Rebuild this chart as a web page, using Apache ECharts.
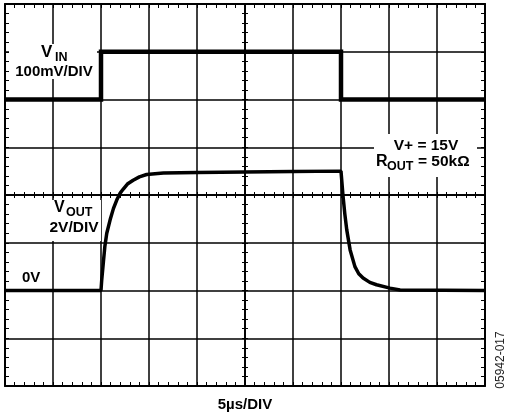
<!DOCTYPE html>
<html>
<head>
<meta charset="utf-8">
<script src="https://cdn.jsdelivr.net/npm/echarts@6/dist/echarts.min.js"></script>
<style>
html,body{margin:0;padding:0;background:#fff;}
#main{width:506px;height:417px;}
</style>
</head>
<body>
<div id="main"></div>
<script>
// screen divisions: x 0..10 (5us/div), y 0..8 (bottom to top)
var vin = [[0,6],[2,6],[2,7],[7,7],[7,6],[10,6]];
var vout = [[0,2],[2.0,2],[2.015,2.22],[2.05,2.6],[2.08,2.92],[2.12,3.2],[2.19,3.48],[2.26,3.72],
	[2.33,3.9],[2.4,4.04],[2.46,4.12],[2.55,4.23],[2.67,4.31],[2.8,4.38],[2.95,4.43],[3.3,4.46],
	[4,4.47],[5,4.48],[6,4.49],[7.0,4.5],[7.04,4.0],[7.08,3.6],[7.12,3.27],[7.19,2.85],
	[7.29,2.5],[7.37,2.35],[7.46,2.26],[7.6,2.17],[7.74,2.12],[8.02,2.05],[8.23,2.01],[10,2]];
var xDivs = 10;
var yDivs = 8;

var chart = echarts.init(document.getElementById('main'));
var font = '"Liberation Sans", Arial, sans-serif';

function scaleAxis(pos, grid, max, extra){
	var a = {
		type: 'value',
		gridIndex: grid,
		min: 0,
		max: max,
		interval: 1,
		position: pos,
		axisLine: {show: true, onZero: false, lineStyle: {color: '#000', width: 2}},
		axisTick: {show: true, inside: true, length: 4, lineStyle: {color: '#000', width: 1}},
		minorTick: {show: true, splitNumber: 5, length: 4, lineStyle: {color: '#000', width: 1}},
		axisLabel: {show: false},
		splitLine: {show: false}
	};
	for (var k in extra) a[k] = extra[k];
	return a;
}

// tick rows along the centre lines: half-screen grids, ticks pointing inward
var centre = {
	axisLine: {show: true, onZero: false, lineStyle: {color: '#000', width: 1.5}},
	axisTick: {show: true, inside: true, length: 3, lineStyle: {color: '#000', width: 1}},
	minorTick: {show: true, splitNumber: 5, length: 3, lineStyle: {color: '#000', width: 1}}
};
function hidden(grid){
	return {type: 'value', gridIndex: grid, min: 0, max: 1, show: false};
}

var gridLine = {show: true, lineStyle: {color: '#000', width: 1.5}};

var option = {
	animation: false,
	backgroundColor: '#fff',
	grid: [
		{left: 5, top: 4, width: 480, height: 382},
		{left: 5, top: 4, width: 480, height: 191},
		{left: 5, top: 195, width: 480, height: 191},
		{left: 5, top: 4, width: 240, height: 382},
		{left: 245, top: 4, width: 240, height: 382}
	],
	xAxis: [
		scaleAxis('bottom', 0, xDivs, {splitLine: gridLine}),
		scaleAxis('top', 0, xDivs, {}),
		scaleAxis('bottom', 1, xDivs, centre),
		scaleAxis('top', 2, xDivs, centre),
		hidden(3),
		hidden(4)
	],
	yAxis: [
		scaleAxis('left', 0, yDivs, {splitLine: gridLine}),
		scaleAxis('right', 0, yDivs, {}),
		hidden(1),
		hidden(2),
		scaleAxis('right', 3, yDivs, centre),
		scaleAxis('left', 4, yDivs, centre)
	],
	series: [
		{
			name: 'VIN',
			type: 'line',
			data: vin,
			showSymbol: false,
			symbol: 'none',
			lineStyle: {color: '#000', width: 4.5, join: 'miter'},
			z: 5
		},
		{
			name: 'VOUT',
			type: 'line',
			data: vout,
			showSymbol: false,
			symbol: 'none',
			smooth: false,
			lineStyle: {color: '#000', width: 3.5},
			z: 5
		}
	],
	graphic: [
		// label backgrounds
		{type: 'rect', z: 10, shape: {x: 9, y: 44, width: 88, height: 35}, style: {fill: '#fff'}},
		{type: 'rect', z: 10, shape: {x: 374, y: 134, width: 103, height: 43}, style: {fill: '#fff'}},
		{type: 'rect', z: 10, shape: {x: 45, y: 200, width: 56, height: 41}, style: {fill: '#fff'}},
		// VIN
		{type: 'text', z: 11, style: {x: 41, y: 52, text: 'V', font: 'bold 17px ' + font, fill: '#000', verticalAlign: 'middle'}},
		{type: 'text', z: 11, style: {x: 55, y: 58, text: 'IN', font: 'bold 12.5px ' + font, fill: '#000', verticalAlign: 'middle'}},
		{type: 'text', z: 11, style: {x: 54, y: 71.5, text: '100mV/DIV', font: 'bold 15px ' + font, fill: '#000', align: 'center', verticalAlign: 'middle'}},
		// V+ / ROUT
		{type: 'text', z: 11, style: {x: 426, y: 146, text: 'V+ = 15V', font: 'bold 15.5px ' + font, fill: '#000', align: 'center', verticalAlign: 'middle'}},
		{type: 'text', z: 11, style: {x: 376, y: 162, text: 'R', font: 'bold 16px ' + font, fill: '#000', verticalAlign: 'middle'}},
		{type: 'text', z: 11, style: {x: 387, y: 167, text: 'OUT', font: 'bold 12.5px ' + font, fill: '#000', verticalAlign: 'middle'}},
		{type: 'text', z: 11, style: {x: 418, y: 162, text: '= 50k\u03a9', font: 'bold 15.5px ' + font, fill: '#000', verticalAlign: 'middle'}},
		// VOUT
		{type: 'text', z: 11, style: {x: 54, y: 208, text: 'V', font: 'bold 16px ' + font, fill: '#000', verticalAlign: 'middle'}},
		{type: 'text', z: 11, style: {x: 66, y: 213, text: 'OUT', font: 'bold 12.5px ' + font, fill: '#000', verticalAlign: 'middle'}},
		{type: 'text', z: 11, style: {x: 74, y: 228, text: '2V/DIV', font: 'bold 15.5px ' + font, fill: '#000', align: 'center', verticalAlign: 'middle'}},
		// 0V
		{type: 'text', z: 11, style: {x: 22, y: 278, text: '0V', font: 'bold 15px ' + font, fill: '#000', verticalAlign: 'middle'}},
		// time base
		{type: 'text', z: 11, style: {x: 245, y: 405, text: '5\u00b5s/DIV', font: 'bold 15px ' + font, fill: '#000', align: 'center', verticalAlign: 'middle'}},
		// figure id
		{type: 'text', z: 11, x: 501, y: 360, rotation: Math.PI / 2,
			style: {x: 0, y: 0, text: '05942-017', font: '12px ' + font, fill: '#222', align: 'center', verticalAlign: 'middle'}}
	]
};
chart.setOption(option);
</script>
</body>
</html>
